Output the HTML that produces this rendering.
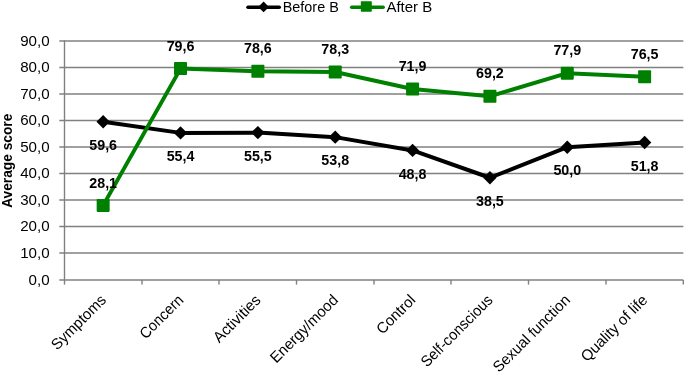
<!DOCTYPE html><html><head><meta charset="utf-8"><style>html,body{margin:0;padding:0;background:#fff;width:685px;height:373px;overflow:hidden}svg{display:block;will-change:transform}text{font-family:"Liberation Sans",sans-serif}</style></head><body>
<svg width="685" height="373" viewBox="0 0 685 373">
<line x1="59.30" y1="280.00" x2="683.30" y2="280.00" stroke="#808080" stroke-width="1.4"/>
<text transform="translate(49.60 284.90) scale(1.045 1.0)" font-size="14.5" text-anchor="end" fill="#000">0,0</text>
<line x1="59.30" y1="253.00" x2="683.30" y2="253.00" stroke="#808080" stroke-width="1.4"/>
<text transform="translate(49.60 257.90) scale(1.045 1.0)" font-size="14.5" text-anchor="end" fill="#000">10,0</text>
<line x1="59.30" y1="226.50" x2="683.30" y2="226.50" stroke="#808080" stroke-width="1.4"/>
<text transform="translate(49.60 231.40) scale(1.045 1.0)" font-size="14.5" text-anchor="end" fill="#000">20,0</text>
<line x1="59.30" y1="200.00" x2="683.30" y2="200.00" stroke="#808080" stroke-width="1.4"/>
<text transform="translate(49.60 204.90) scale(1.045 1.0)" font-size="14.5" text-anchor="end" fill="#000">30,0</text>
<line x1="59.30" y1="173.50" x2="683.30" y2="173.50" stroke="#808080" stroke-width="1.4"/>
<text transform="translate(49.60 178.40) scale(1.045 1.0)" font-size="14.5" text-anchor="end" fill="#000">40,0</text>
<line x1="59.30" y1="147.00" x2="683.30" y2="147.00" stroke="#808080" stroke-width="1.4"/>
<text transform="translate(49.60 151.90) scale(1.045 1.0)" font-size="14.5" text-anchor="end" fill="#000">50,0</text>
<line x1="59.30" y1="120.50" x2="683.30" y2="120.50" stroke="#808080" stroke-width="1.4"/>
<text transform="translate(49.60 125.40) scale(1.045 1.0)" font-size="14.5" text-anchor="end" fill="#000">60,0</text>
<line x1="59.30" y1="94.00" x2="683.30" y2="94.00" stroke="#808080" stroke-width="1.4"/>
<text transform="translate(49.60 98.90) scale(1.045 1.0)" font-size="14.5" text-anchor="end" fill="#000">70,0</text>
<line x1="59.30" y1="67.50" x2="683.30" y2="67.50" stroke="#808080" stroke-width="1.4"/>
<text transform="translate(49.60 72.40) scale(1.045 1.0)" font-size="14.5" text-anchor="end" fill="#000">80,0</text>
<line x1="59.30" y1="41.00" x2="683.30" y2="41.00" stroke="#808080" stroke-width="1.4"/>
<text transform="translate(49.60 45.90) scale(1.045 1.0)" font-size="14.5" text-anchor="end" fill="#000">90,0</text>
<line x1="64.50" y1="40.30" x2="64.50" y2="280.00" stroke="#808080" stroke-width="1.4"/>
<line x1="64.50" y1="280.00" x2="64.50" y2="284.60" stroke="#808080" stroke-width="1.4"/>
<line x1="142.00" y1="280.00" x2="142.00" y2="284.60" stroke="#808080" stroke-width="1.4"/>
<line x1="219.00" y1="280.00" x2="219.00" y2="284.60" stroke="#808080" stroke-width="1.4"/>
<line x1="296.50" y1="280.00" x2="296.50" y2="284.60" stroke="#808080" stroke-width="1.4"/>
<line x1="374.00" y1="280.00" x2="374.00" y2="284.60" stroke="#808080" stroke-width="1.4"/>
<line x1="451.00" y1="280.00" x2="451.00" y2="284.60" stroke="#808080" stroke-width="1.4"/>
<line x1="528.50" y1="280.00" x2="528.50" y2="284.60" stroke="#808080" stroke-width="1.4"/>
<line x1="606.00" y1="280.00" x2="606.00" y2="284.60" stroke="#808080" stroke-width="1.4"/>
<line x1="683.30" y1="280.00" x2="683.30" y2="284.60" stroke="#808080" stroke-width="1.4"/>
<text transform="translate(106.97 301.00) rotate(-45) scale(0.975 1.0)" font-size="15.3" text-anchor="end" fill="#000">Symptoms</text>
<text transform="translate(184.32 301.00) rotate(-45) scale(0.94575 1.0)" font-size="15.3" text-anchor="end" fill="#000">Concern</text>
<text transform="translate(261.68 301.00) rotate(-45) scale(0.9944999999999999 1.0)" font-size="15.3" text-anchor="end" fill="#000">Activities</text>
<text transform="translate(339.02 301.00) rotate(-45) scale(0.975 1.0)" font-size="15.3" text-anchor="end" fill="#000">Energy/mood</text>
<text transform="translate(416.38 301.00) rotate(-45) scale(0.975 1.0)" font-size="15.3" text-anchor="end" fill="#000">Control</text>
<text transform="translate(493.72 301.00) rotate(-45) scale(0.9506249999999999 1.0)" font-size="15.3" text-anchor="end" fill="#000">Self-conscious</text>
<text transform="translate(571.07 301.00) rotate(-45) scale(0.975 1.0)" font-size="15.3" text-anchor="end" fill="#000">Sexual function</text>
<text transform="translate(648.42 301.00) rotate(-45) scale(0.98475 1.0)" font-size="15.3" text-anchor="end" fill="#000">Quality of life</text>
<polyline points="103.17,121.73 180.52,132.88 257.88,132.62 335.22,137.13 412.57,150.41 489.92,177.76 567.27,147.22 644.62,142.44" fill="none" stroke="#000" stroke-width="4" stroke-linejoin="round"/>
<polyline points="103.17,205.38 180.52,68.62 257.88,71.27 335.22,72.07 412.57,89.07 489.92,96.24 567.27,73.13 644.62,76.85" fill="none" stroke="#008000" stroke-width="4" stroke-linejoin="round"/>
<polygon points="103.17,115.03 109.88,121.73 103.17,128.43 96.47,121.73" fill="#000"/>
<polygon points="180.52,126.18 187.22,132.88 180.52,139.58 173.82,132.88" fill="#000"/>
<polygon points="257.88,125.92 264.57,132.62 257.88,139.32 251.18,132.62" fill="#000"/>
<polygon points="335.22,130.43 341.92,137.13 335.22,143.83 328.52,137.13" fill="#000"/>
<polygon points="412.57,143.71 419.27,150.41 412.57,157.11 405.88,150.41" fill="#000"/>
<polygon points="489.92,171.06 496.62,177.76 489.92,184.46 483.22,177.76" fill="#000"/>
<polygon points="567.27,140.52 573.98,147.22 567.27,153.92 560.57,147.22" fill="#000"/>
<polygon points="644.62,135.74 651.33,142.44 644.62,149.14 637.92,142.44" fill="#000"/>
<rect x="96.67" y="198.88" width="13.00" height="13.00" rx="0.8" fill="#008000"/>
<rect x="174.02" y="62.12" width="13.00" height="13.00" rx="0.8" fill="#008000"/>
<rect x="251.38" y="64.77" width="13.00" height="13.00" rx="0.8" fill="#008000"/>
<rect x="328.72" y="65.57" width="13.00" height="13.00" rx="0.8" fill="#008000"/>
<rect x="406.07" y="82.57" width="13.00" height="13.00" rx="0.8" fill="#008000"/>
<rect x="483.42" y="89.74" width="13.00" height="13.00" rx="0.8" fill="#008000"/>
<rect x="560.77" y="66.63" width="13.00" height="13.00" rx="0.8" fill="#008000"/>
<rect x="638.12" y="70.35" width="13.00" height="13.00" rx="0.8" fill="#008000"/>
<text transform="translate(103.17 149.93) scale(1.02 1.0)" font-size="14.0" text-anchor="middle" font-weight="bold" fill="#000">59,6</text>
<text transform="translate(180.52 161.08) scale(1.02 1.0)" font-size="14.0" text-anchor="middle" font-weight="bold" fill="#000">55,4</text>
<text transform="translate(257.88 160.82) scale(1.02 1.0)" font-size="14.0" text-anchor="middle" font-weight="bold" fill="#000">55,5</text>
<text transform="translate(335.22 165.33) scale(1.02 1.0)" font-size="14.0" text-anchor="middle" font-weight="bold" fill="#000">53,8</text>
<text transform="translate(412.57 178.61) scale(1.02 1.0)" font-size="14.0" text-anchor="middle" font-weight="bold" fill="#000">48,8</text>
<text transform="translate(489.92 205.96) scale(1.02 1.0)" font-size="14.0" text-anchor="middle" font-weight="bold" fill="#000">38,5</text>
<text transform="translate(567.27 175.42) scale(1.02 1.0)" font-size="14.0" text-anchor="middle" font-weight="bold" fill="#000">50,0</text>
<text transform="translate(644.62 170.64) scale(1.02 1.0)" font-size="14.0" text-anchor="middle" font-weight="bold" fill="#000">51,8</text>
<text transform="translate(103.17 187.58) scale(1.02 1.0)" font-size="14.0" text-anchor="middle" font-weight="bold" fill="#000">28,1</text>
<text transform="translate(180.52 50.82) scale(1.02 1.0)" font-size="14.0" text-anchor="middle" font-weight="bold" fill="#000">79,6</text>
<text transform="translate(257.88 53.47) scale(1.02 1.0)" font-size="14.0" text-anchor="middle" font-weight="bold" fill="#000">78,6</text>
<text transform="translate(335.22 54.27) scale(1.02 1.0)" font-size="14.0" text-anchor="middle" font-weight="bold" fill="#000">78,3</text>
<text transform="translate(412.57 71.27) scale(1.02 1.0)" font-size="14.0" text-anchor="middle" font-weight="bold" fill="#000">71,9</text>
<text transform="translate(489.92 78.44) scale(1.02 1.0)" font-size="14.0" text-anchor="middle" font-weight="bold" fill="#000">69,2</text>
<text transform="translate(567.27 55.33) scale(1.02 1.0)" font-size="14.0" text-anchor="middle" font-weight="bold" fill="#000">77,9</text>
<text transform="translate(644.62 59.05) scale(1.02 1.0)" font-size="14.0" text-anchor="middle" font-weight="bold" fill="#000">76,5</text>
<text transform="translate(11.50 160.75) rotate(-90) scale(0.955 1.0)" font-size="14.4" text-anchor="middle" font-weight="bold" fill="#000">Average score</text>
<line x1="248" y1="7.2" x2="279.2" y2="7.2" stroke="#000" stroke-width="3.6" stroke-linecap="round"/>
<polygon points="263.6,1.5 269.0,6.9 263.6,12.3 258.20000000000005,6.9" fill="#000"/>
<text transform="translate(282.70 11.70) scale(1.03 1.0)" font-size="14.0" text-anchor="start" fill="#000">Before B</text>
<line x1="351.7" y1="7.2" x2="383.1" y2="7.2" stroke="#008000" stroke-width="3.6" stroke-linecap="round"/>
<rect x="360.8" y="1.2000000000000002" width="11" height="10.5" rx="0.6" fill="#008000"/>
<text transform="translate(386.40 11.70) scale(1.07 1.0)" font-size="14.0" text-anchor="start" fill="#000">After B</text>
</svg></body></html>
